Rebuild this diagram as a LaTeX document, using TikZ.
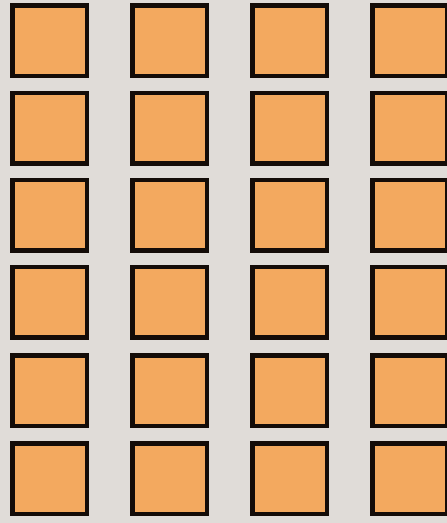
\documentclass[tikz,border=0pt]{standalone}
\definecolor{bg}{HTML}{E0DCD8}
\definecolor{sq}{HTML}{F3A95F}
\definecolor{edge}{HTML}{140C08}
\tikzset{tile/.style={fill=sq,draw=edge,line width=4.5pt}}
\begin{document}
\begin{tikzpicture}[x=1pt,y=-1pt]
\fill[bg] (0,0) rectangle (447,523);
\useasboundingbox (0,0) rectangle (447,523);
\foreach \c/\xx in {1/10,2/130,3/250,4/370}{
  \foreach \r/\yy in {1/3,2/90.5,3/177.5,4/264.5,5/353,6/441}{
    \path[tile] (\xx+2.25,\yy+2.25) rectangle (\xx+76.75,\yy+72.75);
    \node[inner sep=0,minimum size=0] (t\c\r) at (\xx+39.5,\yy+37.5) {};
  }
}
\end{tikzpicture}
\end{document}
